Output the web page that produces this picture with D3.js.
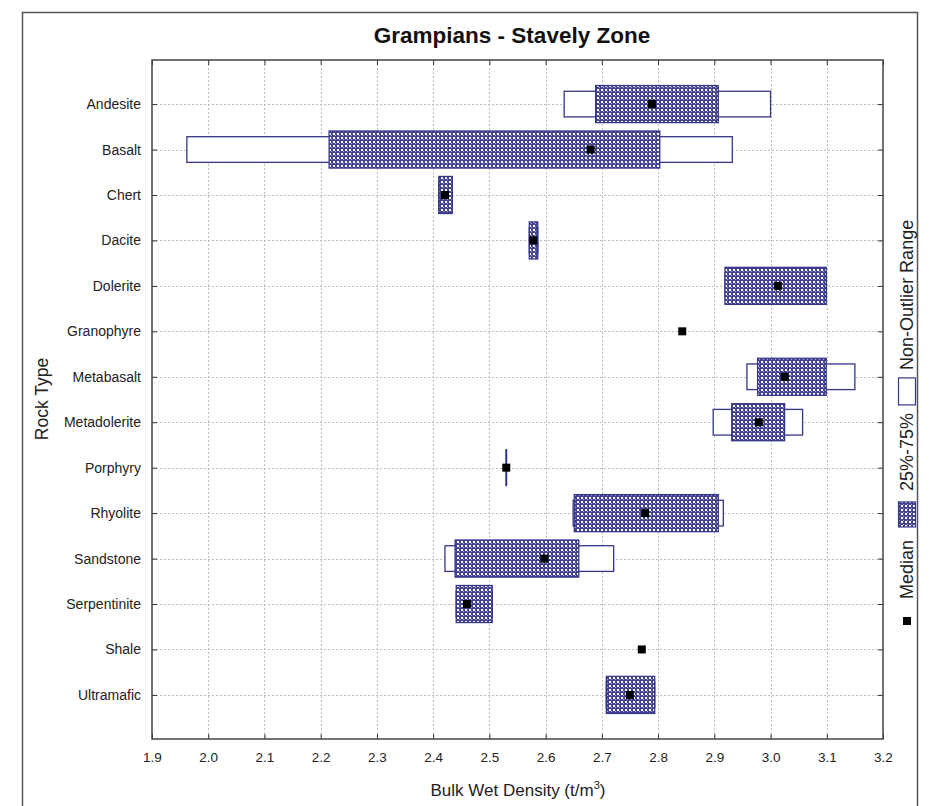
<!DOCTYPE html>
<html>
<head>
<meta charset="utf-8">
<script src="https://cdn.jsdelivr.net/npm/d3@7"></script>
<style>
  html, body { margin: 0; padding: 0; background: #fff; }
  svg { display: block; font-family: "Liberation Sans", Arial, sans-serif; }
</style>
</head>
<body>
<svg id="chart" width="934" height="806"></svg>
<script>
// ---- data ----
const categories = ["Andesite","Basalt","Chert","Dacite","Dolerite","Granophyre","Metabasalt",
  "Metadolerite","Porphyry","Rhyolite","Sandstone","Serpentinite","Shale","Ultramafic"];
const medians = [2.789, 2.680, 2.421, 2.578, 3.013, 2.843, 3.025, 2.979, 2.530, 2.777, 2.598, 2.460, 2.771, 2.750];
const q25     = [2.689, 2.215, 2.410, 2.571, 2.919, null,  2.977, 2.931, 2.530, 2.651, 2.439, 2.441, null,  2.708];
const q75     = [2.907, 2.803, 2.434, 2.586, 3.099, null,  3.099, 3.025, 2.530, 2.907, 2.659, 2.505, null,  2.794];
const rangeLo = [2.633, 1.962, 2.410, 2.571, 2.919, null,  2.958, 2.898, 2.530, 2.649, 2.421, 2.441, null,  2.708];
const rangeHi = [3.000, 2.932, 2.434, 2.586, 3.099, null,  3.150, 3.057, 2.530, 2.916, 2.721, 2.505, null,  2.794];
const xTicks = [1.9,2.0,2.1,2.2,2.3,2.4,2.5,2.6,2.7,2.8,2.9,3.0,3.1,3.2];
const title = "Grampians - Stavely Zone";
const legendLabels = ["Median", "25%-75%", "Non-Outlier Range"];

// ---- layout ----
const L = 152, R = 883, T = 60, B = 739;
const navy = "#35358c";
const svg = d3.select("#chart");

const defs = svg.append("defs");
const pat = defs.append("pattern").attr("id","chk").attr("patternUnits","userSpaceOnUse")
  .attr("width",4).attr("height",4);
pat.append("rect").attr("width",4).attr("height",4).attr("fill","#45458f");
pat.append("rect").attr("x",1).attr("y",1).attr("width",2).attr("height",2).attr("fill","#ffffff");
pat.append("rect").attr("x",3).attr("y",3).attr("width",1).attr("height",1).attr("fill","#a8a8d0");

// outer frame
svg.append("rect").attr("x",22.5).attr("y",12.5).attr("width",895).attr("height",820)
  .attr("fill","none").attr("stroke","#555").attr("stroke-width",1.5);

const x = d3.scaleLinear().domain([1.9,3.2]).range([L,R]);
const y = d3.scalePoint().domain(categories).range([T,B]).padding(0.97);
const step = y.step();

// grid
const grid = svg.append("g").attr("stroke","#bdbdbd").attr("stroke-width",1).attr("stroke-dasharray","2,2");
grid.selectAll("line.v").data(xTicks.slice(1,-1)).join("line")
  .attr("x1",d=>Math.round(x(d))+0.5).attr("x2",d=>Math.round(x(d))+0.5).attr("y1",T).attr("y2",B);
grid.selectAll("line.h").data(categories).join("line")
  .attr("y1",d=>Math.round(y(d))+0.5).attr("y2",d=>Math.round(y(d))+0.5).attr("x1",L).attr("x2",R);

// axes
const fmt = d3.format(".1f");
const axB = svg.append("g").attr("transform",`translate(0,${B})`)
  .call(d3.axisBottom(x).tickValues(xTicks).tickFormat(fmt).tickSize(-5).tickPadding(13));
const axT = svg.append("g").attr("transform",`translate(0,${T})`)
  .call(d3.axisTop(x).tickValues(xTicks).tickFormat("").tickSize(-5));
const axL = svg.append("g").attr("transform",`translate(${L},0)`)
  .call(d3.axisLeft(y).tickSize(-5).tickPadding(11));
const axR = svg.append("g").attr("transform",`translate(${R},0)`)
  .call(d3.axisRight(y).tickFormat("").tickSize(-5));
[axB,axT,axL,axR].forEach(a=>{
  a.select(".domain").remove();
  a.selectAll(".tick line").attr("stroke","#333");
  a.selectAll("text").attr("fill","#222").attr("font-size",14).attr("font-family","Liberation Sans, Arial, sans-serif");
});
axB.selectAll("text").attr("font-size",13.5);

// plot box
svg.append("rect").attr("x",L).attr("y",T).attr("width",R-L).attr("height",B-T)
  .attr("fill","none").attr("stroke","#444").attr("stroke-width",1.5);

// marks
const rows = categories.map((c,i)=>({c, med:medians[i], q1:q25[i], q3:q75[i], lo:rangeLo[i], hi:rangeHi[i]}));
const outerH = step*0.565, boxH = step*0.815;
const g = svg.append("g");
g.selectAll("rect.range").data(rows.filter(d=>d.lo!=null && d.hi>d.lo)).join("rect")
  .attr("x",d=>x(d.lo)).attr("width",d=>x(d.hi)-x(d.lo))
  .attr("y",d=>y(d.c)-outerH/2).attr("height",outerH)
  .attr("fill","#fff").attr("stroke",navy).attr("stroke-width",1.3);
g.selectAll("rect.box").data(rows.filter(d=>d.q1!=null && d.q3>d.q1)).join("rect")
  .attr("x",d=>x(d.q1)).attr("width",d=>x(d.q3)-x(d.q1))
  .attr("y",d=>y(d.c)-boxH/2).attr("height",boxH)
  .attr("fill","url(#chk)").attr("stroke",navy).attr("stroke-width",1.3);
// zero-width boxes drawn as a vertical line
g.selectAll("line.zbox").data(rows.filter(d=>d.q1!=null && d.q3===d.q1)).join("line")
  .attr("x1",d=>x(d.q1)).attr("x2",d=>x(d.q1))
  .attr("y1",d=>y(d.c)-boxH/2).attr("y2",d=>y(d.c)+boxH/2)
  .attr("stroke",navy).attr("stroke-width",2);
const ms = 8;
g.selectAll("rect.med").data(rows).join("rect")
  .attr("x",d=>x(d.med)-ms/2).attr("y",d=>y(d.c)-ms/2).attr("width",ms).attr("height",ms)
  .attr("fill","#000");

// title & axis titles
svg.append("text").attr("x",512).attr("y",43).attr("text-anchor","middle")
  .attr("font-size",22.5).attr("font-weight","bold").attr("fill","#111").text(title);
const xl = svg.append("text").attr("x",518).attr("y",796).attr("text-anchor","middle")
  .attr("font-size",17).attr("fill","#222");
xl.append("tspan").text("Bulk Wet Density (t/m");
xl.append("tspan").attr("font-size",11).attr("dy",-7).text("3");
xl.append("tspan").attr("dy",7).text(")");
svg.append("text").attr("transform","translate(48,399) rotate(-90)").attr("text-anchor","middle")
  .attr("font-size",17.5).attr("fill","#222").text("Rock Type");

// legend (rotated)
const lg = svg.append("g").attr("transform","rotate(-90)");
const lx = 907;
let pos = 621; // screen y, moving upward
lg.append("rect").attr("x",-(pos+ms/2)).attr("y",lx-ms/2).attr("width",ms).attr("height",ms).attr("fill","#000");
pos -= 22;
function ltext(s){
  const t = lg.append("text").attr("x",-pos).attr("y",lx).attr("dy","0.36em")
    .attr("font-size",18).attr("fill","#222").text(s);
  pos -= t.node().getComputedTextLength();
}
ltext(legendLabels[0]);
pos -= 13;
lg.append("rect").attr("x",-pos).attr("y",lx-8.5).attr("width",25).attr("height",17)
  .attr("fill","url(#chk)").attr("stroke",navy).attr("stroke-width",1.2);
pos -= 25 + 11;
ltext(legendLabels[1]);
pos -= 8;
lg.append("rect").attr("x",-pos).attr("y",lx-8.5).attr("width",27).attr("height",17)
  .attr("fill","#fff").attr("stroke",navy).attr("stroke-width",1.2);
pos -= 27 + 8;
ltext(legendLabels[2]);
</script>
</body>
</html>
